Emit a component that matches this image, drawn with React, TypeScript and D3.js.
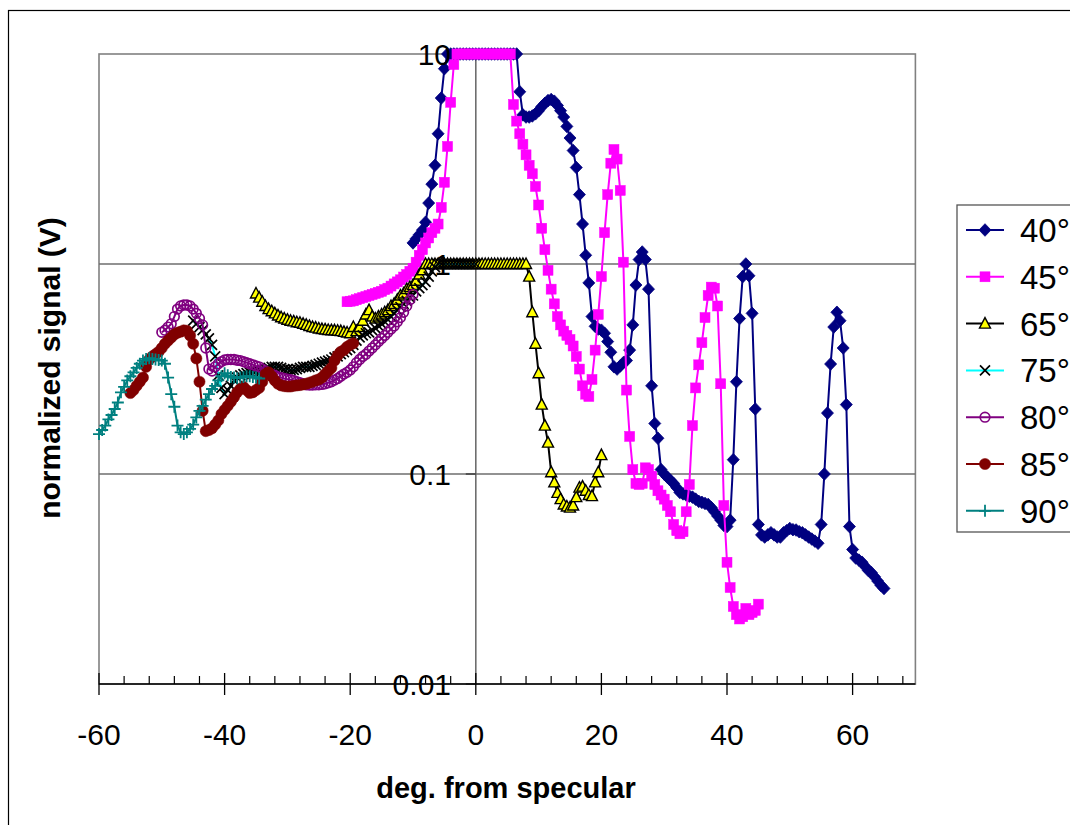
import React from 'react';
import * as d3 from 'd3';

type Pt = [number, number];

// 40° series (deg, V)
const s40: Pt[] = [
  [-10, 1.26], [-9.5, 1.32], [-9, 1.38], [-8.5, 1.45], [-8, 1.58], [-7.5, 1.95], [-7, 2.4], [-6.5, 2.95],
  [-6, 4.17], [-5.5, 6.17], [-5, 8.51], [-4.5, 10], [-4, 10], [-3.5, 10], [-3, 10], [-2.5, 10], [-2, 10],
  [-1.5, 10], [-1, 10], [-0.5, 10], [0, 10], [0.5, 10], [1, 10], [1.5, 10], [2, 10], [2.5, 10], [3, 10],
  [3.5, 10], [4, 10], [4.5, 10], [5, 10], [5.5, 10], [6, 10], [6.5, 10], [7, 6.61], [7.5, 5.13], [8, 5.01],
  [8.5, 5.01], [9, 5.07], [9.5, 5.19], [10, 5.37], [10.5, 5.62], [11, 5.82], [11.5, 6.0], [12, 6.07],
  [12.5, 5.96], [13, 5.69], [13.5, 5.37], [14, 5.01], [14.5, 4.52], [15, 3.98], [15.5, 3.47], [16, 2.88],
  [16.5, 2.14], [17, 1.55], [17.5, 1.1], [18, 0.813], [18.5, 0.562], [19, 0.505], [19.5, 0.49], [20, 0.484],
  [20.5, 0.468], [21, 0.427], [21.5, 0.38], [22, 0.324], [22.5, 0.316], [23, 0.327], [23.5, 0.339],
  [24, 0.347], [24.5, 0.389], [25, 0.513], [25.5, 0.794], [26, 1.05], [26.5, 1.14], [27, 1.05], [27.5, 0.759],
  [28, 0.263], [28.5, 0.174], [29, 0.148], [29.5, 0.105], [30, 0.1], [30.5, 0.0966], [31, 0.0933],
  [31.5, 0.0902], [32, 0.0861], [32.5, 0.0817], [33, 0.0804], [33.5, 0.0794], [34, 0.0785], [34.5, 0.0776],
  [35, 0.0759], [35.5, 0.0741], [36, 0.0733], [36.5, 0.0724], [37, 0.0716], [37.5, 0.0692], [38, 0.0661],
  [38.5, 0.0631], [39, 0.0603], [39.5, 0.0569], [40, 0.0562], [40.5, 0.0603], [41, 0.117], [41.5, 0.275],
  [42, 0.55], [42.5, 0.871], [43, 1.0], [43.5, 0.879], [44, 0.582], [44.5, 0.204], [45, 0.0575], [45.5, 0.0513],
  [46, 0.0501], [46.5, 0.0513], [47, 0.0525], [47.5, 0.0513], [48, 0.0501], [48.5, 0.0501], [49, 0.0525],
  [49.5, 0.0537], [50, 0.055], [50.5, 0.0543], [51, 0.0541], [51.5, 0.0531], [52, 0.0525], [52.5, 0.0513],
  [53, 0.0501], [53.5, 0.049], [54, 0.0479], [54.5, 0.0468], [55, 0.0575], [55.5, 0.1], [56, 0.195],
  [56.5, 0.334], [57, 0.501], [57.5, 0.589], [58, 0.537], [58.5, 0.398], [59, 0.214], [59.5, 0.0562],
  [60, 0.0437], [60.5, 0.0398], [61, 0.0389], [61.5, 0.038], [62, 0.0363], [62.5, 0.0347], [63, 0.0339],
  [63.5, 0.0324], [64, 0.0309], [64.5, 0.0295], [65, 0.0285],
];

// 45° series
const s45: Pt[] = [
  [-20.5, 0.661], [-20, 0.665], [-19.5, 0.668], [-19, 0.676], [-18.5, 0.684], [-18, 0.692], [-17.5, 0.7],
  [-17, 0.708], [-16.5, 0.716], [-16, 0.724], [-15.5, 0.733], [-15, 0.741], [-14.5, 0.755], [-14, 0.767],
  [-13.5, 0.785], [-13, 0.804], [-12.5, 0.822], [-12, 0.841], [-11.5, 0.867], [-11, 0.891], [-10.5, 0.923],
  [-10, 0.955], [-9.5, 1.02], [-9, 1.1], [-8.5, 1.17], [-8, 1.26], [-7.5, 1.33], [-7, 1.41], [-6.5, 1.48],
  [-6, 1.55], [-5.5, 1.86], [-5, 2.45], [-4.5, 3.63], [-4, 5.89], [-3.5, 8.91], [-3, 10], [-2.5, 10], [-2, 10],
  [-1.5, 10], [-1, 10], [-0.5, 10], [0, 10], [0.5, 10], [1, 10], [1.5, 10], [2, 10], [2.5, 10], [3, 10],
  [3.5, 10], [4, 10], [4.5, 10], [5, 10], [5.5, 10], [6, 5.75], [6.5, 4.79], [7, 4.17], [7.5, 3.72], [8, 3.31],
  [8.5, 2.95], [9, 2.69], [9.5, 2.34], [10, 1.91], [10.5, 1.48], [11, 1.17], [11.5, 0.933], [12, 0.759],
  [12.5, 0.646], [13, 0.562], [13.5, 0.513], [14, 0.479], [14.5, 0.457], [15, 0.437], [15.5, 0.407],
  [16, 0.363], [16.5, 0.316], [17, 0.263], [17.5, 0.24], [18, 0.234], [18.5, 0.282], [19, 0.389], [19.5, 0.575],
  [20, 0.871], [20.5, 1.41], [21, 2.14], [21.5, 3.02], [22, 3.51], [22.5, 3.16], [23, 2.24], [23.5, 1.02],
  [24, 0.251], [24.5, 0.151], [25, 0.105], [25.5, 0.0902], [26, 0.0891], [26.5, 0.0902], [27, 0.107],
  [27.5, 0.105], [28, 0.0977], [28.5, 0.0891], [29, 0.0832], [29.5, 0.0794], [30, 0.0759], [30.5, 0.0708],
  [31, 0.0661], [31.5, 0.0575], [32, 0.0537], [32.5, 0.0519], [33, 0.0531], [33.5, 0.0661], [34, 0.0891],
  [34.5, 0.17], [35, 0.257], [35.5, 0.331], [36, 0.422], [36.5, 0.556], [37, 0.708], [37.5, 0.776],
  [38, 0.767], [38.5, 0.631], [39, 0.269], [39.5, 0.0708], [40, 0.038], [40.5, 0.0288], [41, 0.0234],
  [41.5, 0.0214], [42, 0.0204], [42.5, 0.0209], [43, 0.0229], [43.5, 0.0214], [44, 0.0219], [44.5, 0.0224],
  [45, 0.024],
];

// 65° series
const s65: Pt[] = [
  [-35, 0.724], [-34.5, 0.692], [-34, 0.661], [-33.5, 0.631], [-33, 0.61], [-32.5, 0.596], [-32, 0.582],
  [-31.5, 0.569], [-31, 0.558], [-30.5, 0.55], [-30, 0.543], [-29.5, 0.537], [-29, 0.533], [-28.5, 0.528],
  [-28, 0.525], [-27.5, 0.519], [-27, 0.513], [-26.5, 0.507], [-26, 0.501], [-25.5, 0.498], [-25, 0.493],
  [-24.5, 0.49], [-24, 0.488], [-23.5, 0.485], [-23, 0.484], [-22.5, 0.483], [-22, 0.481], [-21.5, 0.479],
  [-21, 0.475], [-20.5, 0.472], [-20, 0.468], [-19.5, 0.501], [-19, 0.479], [-18.5, 0.501], [-18, 0.537],
  [-17.5, 0.575], [-17, 0.603], [-16.5, 0.562], [-16, 0.55], [-15.5, 0.562], [-15, 0.575], [-14.5, 0.589],
  [-14, 0.603], [-13.5, 0.631], [-13, 0.646], [-12.5, 0.676], [-12, 0.708], [-11.5, 0.724], [-11, 0.759],
  [-10.5, 0.776], [-10, 0.794], [-9.5, 0.832], [-9, 0.891], [-8.5, 0.933], [-8, 1], [-7.5, 1], [-7, 1],
  [-6.5, 1], [-6, 1], [-5.5, 1], [-5, 1], [-4.5, 1], [-4, 1], [-3.5, 1], [-3, 1], [-2.5, 1], [-2, 1], [-1.5, 1],
  [-1, 1], [-0.5, 1], [0, 1], [0.5, 1], [1, 1], [1.5, 1], [2, 1], [2.5, 1], [3, 1], [3.5, 1], [4, 1], [4.5, 1],
  [5, 1], [5.5, 1], [6, 1], [6.5, 1], [7, 1], [7.5, 1], [8, 1], [8.5, 0.871], [9, 0.589], [9.5, 0.417],
  [10, 0.302], [10.5, 0.214], [11, 0.17], [11.5, 0.141], [12, 0.102], [12.5, 0.0912], [13, 0.0813],
  [13.5, 0.0759], [14, 0.0716], [14.5, 0.07], [15, 0.0692], [15.5, 0.0708], [16, 0.0776], [16.5, 0.0861],
  [17, 0.0871], [17.5, 0.0832], [18, 0.0794], [18.5, 0.0785], [19, 0.0912], [19.5, 0.102], [20, 0.123],
];

// 75° series
const s75: Pt[] = [
  [-45, 0.537], [-44.5, 0.519], [-44, 0.501], [-43.5, 0.484], [-43, 0.462], [-42.5, 0.442], [-42, 0.412],
  [-41.5, 0.363], [-41, 0.295], [-40.5, 0.257], [-40, 0.24], [-39.5, 0.251], [-39, 0.263], [-38.5, 0.279],
  [-38, 0.288], [-37.5, 0.295], [-37, 0.299], [-36.5, 0.302], [-36, 0.305], [-35.5, 0.309], [-35, 0.309],
  [-34.5, 0.309], [-34, 0.313], [-33.5, 0.316], [-33, 0.32], [-32.5, 0.324], [-32, 0.324], [-31.5, 0.324],
  [-31, 0.32], [-30.5, 0.316], [-30, 0.316], [-29.5, 0.313], [-29, 0.313], [-28.5, 0.316], [-28, 0.32],
  [-27.5, 0.324], [-27, 0.324], [-26.5, 0.324], [-26, 0.327], [-25.5, 0.331], [-25, 0.335], [-24.5, 0.339],
  [-24, 0.343], [-23.5, 0.347], [-23, 0.351], [-22.5, 0.359], [-22, 0.363], [-21.5, 0.372], [-21, 0.38],
  [-20.5, 0.389], [-20, 0.398], [-19.5, 0.412], [-19, 0.432], [-18.5, 0.447], [-18, 0.457], [-17.5, 0.468],
  [-17, 0.473], [-16.5, 0.484], [-16, 0.495], [-15.5, 0.507], [-15, 0.519], [-14.5, 0.531], [-14, 0.543],
  [-13.5, 0.562], [-13, 0.582], [-12.5, 0.603], [-12, 0.624], [-11.5, 0.646], [-11, 0.668], [-10.5, 0.692],
  [-10, 0.708], [-9.5, 0.741], [-9, 0.767], [-8.5, 0.794], [-8, 0.822], [-7.5, 0.871], [-7, 0.923],
  [-6.5, 0.966], [-6, 1], [-5.5, 1], [-5, 1], [-4.5, 1], [-4, 1], [-3.5, 1], [-3, 1], [-2.5, 1], [-2, 1],
  [-1.5, 1], [-1, 1], [-0.5, 1], [0, 1],
];

// 80° series
const s80: Pt[] = [
  [-50, 0.473], [-49.5, 0.484], [-49, 0.501], [-48.5, 0.519], [-48, 0.562], [-47.5, 0.61], [-47, 0.631],
  [-46.5, 0.638], [-46, 0.638], [-45.5, 0.631], [-45, 0.61], [-44.5, 0.582], [-44, 0.55], [-43.5, 0.513],
  [-43, 0.398], [-42.5, 0.316], [-42, 0.309], [-41.5, 0.324], [-41, 0.335], [-40.5, 0.343], [-40, 0.349],
  [-39.5, 0.351], [-39, 0.351], [-38.5, 0.351], [-38, 0.348], [-37.5, 0.347], [-37, 0.343], [-36.5, 0.339],
  [-36, 0.335], [-35.5, 0.331], [-35, 0.327], [-34.5, 0.324], [-34, 0.316], [-33.5, 0.309], [-33, 0.302],
  [-32.5, 0.299], [-32, 0.295], [-31.5, 0.29], [-31, 0.288], [-30.5, 0.285], [-30, 0.283], [-29.5, 0.281],
  [-29, 0.279], [-28.5, 0.275], [-28, 0.272], [-27.5, 0.269], [-27, 0.266], [-26.5, 0.265], [-26, 0.265],
  [-25.5, 0.266], [-25, 0.266], [-24.5, 0.267], [-24, 0.269], [-23.5, 0.272], [-23, 0.275], [-22.5, 0.28],
  [-22, 0.285], [-21.5, 0.292], [-21, 0.299], [-20.5, 0.305], [-20, 0.313], [-19.5, 0.324], [-19, 0.339],
  [-18.5, 0.351], [-18, 0.363], [-17.5, 0.372], [-17, 0.385], [-16.5, 0.398], [-16, 0.412], [-15.5, 0.427],
  [-15, 0.442], [-14.5, 0.457], [-14, 0.473], [-13.5, 0.49], [-13, 0.507], [-12.5, 0.531], [-12, 0.556],
  [-11.5, 0.589], [-11, 0.631], [-10.5, 0.676], [-10, 0.716],
];

// 85° series
const s85: Pt[] = [
  [-55, 0.243], [-54.5, 0.251], [-54, 0.263], [-53.5, 0.275], [-53, 0.288], [-52.5, 0.324], [-52, 0.351],
  [-51.5, 0.363], [-51, 0.372], [-50.5, 0.382], [-50, 0.398], [-49.5, 0.417], [-49, 0.432], [-48.5, 0.447],
  [-48, 0.462], [-47.5, 0.471], [-47, 0.476], [-46.5, 0.483], [-46, 0.481], [-45.5, 0.457], [-45, 0.417],
  [-44.5, 0.355], [-44, 0.275], [-43.5, 0.2], [-43, 0.16], [-42.5, 0.162], [-42, 0.165], [-41.5, 0.172],
  [-41, 0.18], [-40.5, 0.193], [-40, 0.202], [-39.5, 0.211], [-39, 0.221], [-38.5, 0.232], [-38, 0.245],
  [-37.5, 0.254], [-37, 0.26], [-36.5, 0.251], [-36, 0.243], [-35.5, 0.245], [-35, 0.251], [-34.5, 0.257],
  [-34, 0.275], [-33.5, 0.299], [-33, 0.305], [-32.5, 0.292], [-32, 0.279], [-31.5, 0.269], [-31, 0.264],
  [-30.5, 0.262], [-30, 0.261], [-29.5, 0.261], [-29, 0.263], [-28.5, 0.264], [-28, 0.265], [-27.5, 0.267],
  [-27, 0.269], [-26.5, 0.272], [-26, 0.275], [-25.5, 0.279], [-25, 0.282], [-24.5, 0.288], [-24, 0.299],
  [-23.5, 0.309], [-23, 0.32], [-22.5, 0.347], [-22, 0.367], [-21.5, 0.382], [-21, 0.389], [-20.5, 0.403],
  [-20, 0.412], [-19.5, 0.419],
];

// 90° series
const s90: Pt[] = [
  [-60, 0.155], [-59.5, 0.162], [-59, 0.17], [-58.5, 0.182], [-58, 0.191], [-57.5, 0.204], [-57, 0.219],
  [-56.5, 0.245], [-56, 0.26], [-55.5, 0.279], [-55, 0.292], [-54.5, 0.305], [-54, 0.32], [-53.5, 0.335],
  [-53, 0.347], [-52.5, 0.353], [-52, 0.356], [-51.5, 0.353], [-51, 0.351], [-50.5, 0.349], [-50, 0.347],
  [-49.5, 0.335], [-49, 0.288], [-48.5, 0.24], [-48, 0.209], [-47.5, 0.17], [-47, 0.158], [-46.5, 0.155],
  [-46, 0.158], [-45.5, 0.164], [-45, 0.172], [-44.5, 0.186], [-44, 0.2], [-43.5, 0.211], [-43, 0.226],
  [-42.5, 0.24], [-42, 0.254], [-41.5, 0.263], [-41, 0.279], [-40.5, 0.292], [-40, 0.302], [-39.5, 0.295],
  [-39, 0.29], [-38.5, 0.288], [-38, 0.286], [-37.5, 0.288], [-37, 0.29], [-36.5, 0.292], [-36, 0.292],
  [-35.5, 0.29], [-35, 0.288], [-34.5, 0.285],
];

const seriesNames = ['40°', '45°', '65°', '75°', '80°', '85°', '90°'];
const xMajorTicks = [-60, -40, -20, 0, 20, 40, 60];
const yTicks = [0.01, 0.1, 1, 10];
const yTickLabels = ['0.01', '0.1', '1', '10'];

type Kind = 'diamond' | 'square' | 'triangle' | 'x' | 'ocircle' | 'circle' | 'plus';

const seriesStyle: { data: Pt[]; line: string; kind: Kind; fill: string; stroke: string }[] = [
  { data: s40, line: '#000080', kind: 'diamond', fill: '#000080', stroke: '#000080' },
  { data: s45, line: '#FF00FF', kind: 'square', fill: '#FF00FF', stroke: '#FF00FF' },
  { data: s65, line: '#000000', kind: 'triangle', fill: '#FFFF00', stroke: '#000000' },
  { data: s75, line: '#00FFFF', kind: 'x', fill: 'none', stroke: '#000000' },
  { data: s80, line: '#800080', kind: 'ocircle', fill: 'none', stroke: '#800080' },
  { data: s85, line: '#800000', kind: 'circle', fill: '#800000', stroke: '#800000' },
  { data: s90, line: '#008080', kind: 'plus', fill: 'none', stroke: '#008080' },
];

const FONT = '"Liberation Sans", Arial, Helvetica, sans-serif';

function Marker({ kind, x, y, fill, stroke }: { kind: Kind; x: number; y: number; fill: string; stroke: string }) {
  switch (kind) {
    case 'diamond':
      return <path d={`M${x},${y - 6.3}L${x + 6},${y}L${x},${y + 6.3}L${x - 6},${y}Z`} fill={fill} stroke={stroke} strokeWidth={0.8} />;
    case 'square':
      return <rect x={x - 5} y={y - 5} width={10} height={10} fill={fill} stroke={stroke} strokeWidth={0.5} />;
    case 'triangle':
      return <path d={`M${x},${y - 6}L${x + 5.5},${y + 4.5}L${x - 5.5},${y + 4.5}Z`} fill={fill} stroke={stroke} strokeWidth={1.4} />;
    case 'x':
      return <path d={`M${x - 5},${y - 5}L${x + 5},${y + 5}M${x - 5},${y + 5}L${x + 5},${y - 5}`} stroke={stroke} strokeWidth={1.7} fill="none" />;
    case 'ocircle':
      return <circle cx={x} cy={y} r={4.8} fill="none" stroke={stroke} strokeWidth={1.7} />;
    case 'circle':
      return <circle cx={x} cy={y} r={5.6} fill={fill} stroke={stroke} strokeWidth={0.5} />;
    case 'plus':
      return <path d={`M${x - 6},${y}L${x + 6},${y}M${x},${y - 6}L${x},${y + 6}`} stroke={stroke} strokeWidth={1.8} fill="none" />;
  }
  return null;
}

export default function App() {
  const x = d3.scaleLinear().domain([-60, 70]).range([99, 915.4]);
  const y = d3.scaleLog().domain([0.01, 10]).range([684, 54]);
  const line = d3.line<Pt>().x((d) => x(d[0])).y((d) => y(d[1]));
  const minorTicks = d3.range(-60, 70, 4).filter((t) => !xMajorTicks.includes(t));
  const plotL = x(-60), plotR = x(70), plotT = y(10), plotB = y(0.01);
  const x0 = x(0);

  return (
    <svg width={1070} height={825} style={{ position: 'absolute', left: 0, top: 0, fontFamily: FONT }}>
      <rect x={0} y={0} width={1070} height={825} fill="#fff" />
      <rect x={8.5} y={10.5} width={1100} height={850} fill="#fff" stroke="#000" strokeWidth={1.2} />
      {/* plot area */}
      <rect x={plotL} y={plotT} width={plotR - plotL} height={plotB - plotT} fill="#fff" stroke="#808080" strokeWidth={1.6} />
      {yTicks.filter((t) => t > 0.01 && t < 10).map((t) => (
        <line key={t} x1={plotL} x2={plotR} y1={y(t)} y2={y(t)} stroke="#6e6e6e" strokeWidth={1.6} />
      ))}
      {/* y axis at x=0 */}
      <line x1={x0} x2={x0} y1={plotT} y2={plotB} stroke="#6e6e6e" strokeWidth={1.6} />
      {yTicks.map((t) => (
        <line key={'yt' + t} x1={x0 - 10} x2={x0} y1={y(t)} y2={y(t)} stroke="#333" strokeWidth={1.3} />
      ))}
      {/* x axis */}
      <line x1={plotL} x2={plotR} y1={plotB} y2={plotB} stroke="#000" strokeWidth={1.5} />
      {xMajorTicks.map((t) => (
        <line key={'xM' + t} x1={x(t)} x2={x(t)} y1={plotB - 11} y2={plotB + 11} stroke="#000" strokeWidth={1.3} />
      ))}
      {minorTicks.map((t) => (
        <line key={'xm' + t} x1={x(t)} x2={x(t)} y1={plotB - 8} y2={plotB} stroke="#000" strokeWidth={1.2} />
      ))}
      {/* series */}
      {seriesStyle.map((s, i) => (
        <g key={i}>
          <path d={line(s.data) || ''} fill="none" stroke={s.line} strokeWidth={2} />
          {s.data.map((d, j) => (
            <Marker key={j} kind={s.kind} x={x(d[0])} y={y(d[1])} fill={s.fill} stroke={s.stroke} />
          ))}
        </g>
      ))}
      {/* y tick labels */}
      {yTicks.map((t, i) => (
        <text key={'yl' + t} x={451} y={y(t) + 10.5} textAnchor="end" fontSize={30} fill="#000">
          {yTickLabels[i]}
        </text>
      ))}
      {/* x tick labels */}
      {xMajorTicks.map((t) => (
        <text key={'xl' + t} x={x(t)} y={745} textAnchor="middle" fontSize={30} fill="#000">
          {t}
        </text>
      ))}
      <text x={506} y={798} textAnchor="middle" fontSize={29} fontWeight="bold" fill="#000">
        deg. from specular
      </text>
      <text transform="translate(60,368) rotate(-90)" textAnchor="middle" fontSize={30} fontWeight="bold" fill="#000">
        normalized signal (V)
      </text>
      {/* legend */}
      <rect x={957} y={205} width={200} height={327} fill="#fff" stroke="#555" strokeWidth={1.3} />
      {seriesStyle.map((s, i) => {
        const cy = 230 + i * 46.8;
        return (
          <g key={'lg' + i}>
            <line x1={966} x2={1004} y1={cy} y2={cy} stroke={s.line} strokeWidth={2} />
            <Marker kind={s.kind} x={985} y={cy} fill={s.fill} stroke={s.stroke} />
            <text x={1020} y={cy + 12} fontSize={33} fill="#000">
              {seriesNames[i]}
            </text>
          </g>
        );
      })}
    </svg>
  );
}
